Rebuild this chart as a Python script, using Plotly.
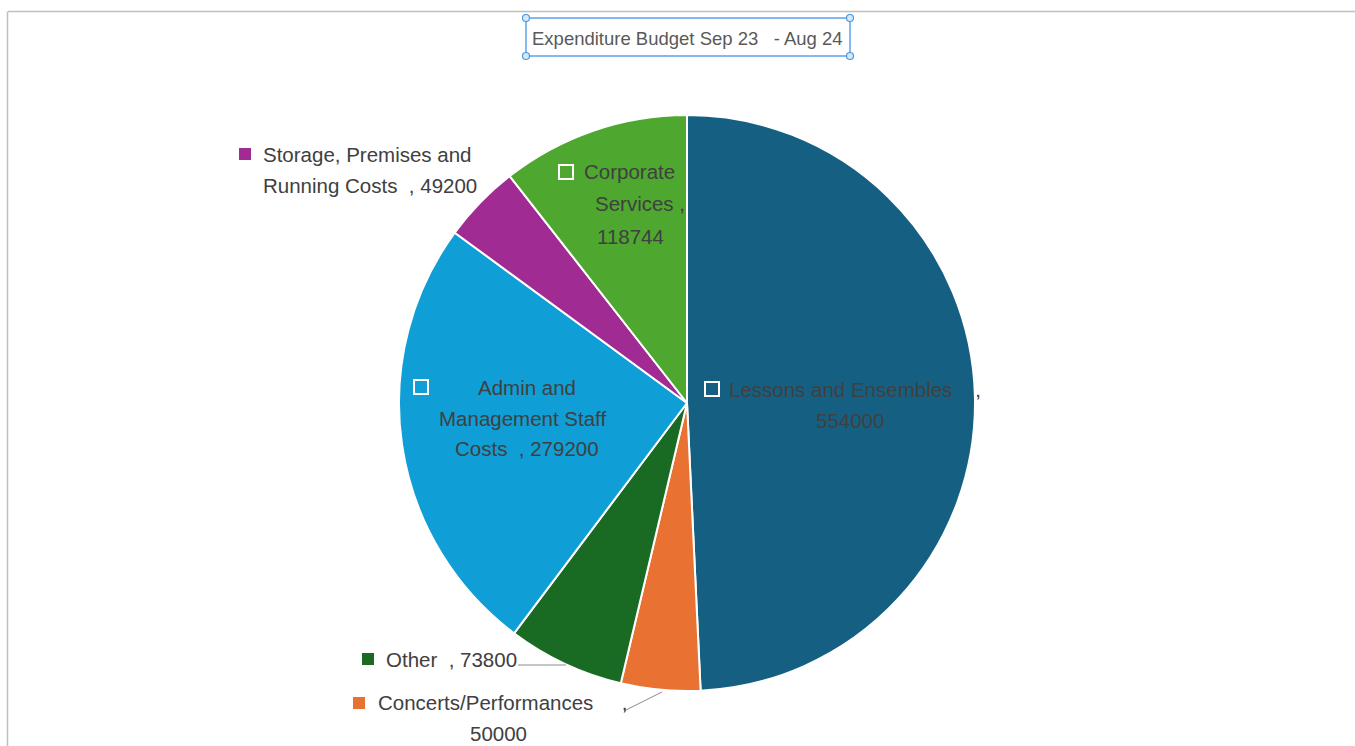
import plotly.graph_objects as go

# ---- data ----
categories = ["Lessons and Ensembles", "Concerts/Performances", "Other",
              "Admin and Management Staff Costs",
              "Storage, Premises and Running Costs", "Corporate Services"]
values = [554000, 50000, 73800, 279200, 49200, 118744]
colors = ["#156082", "#E97132", "#196B24", "#0F9ED5", "#A02B93", "#4EA72E"]
title_text = "Expenditure Budget Sep 23   - Aug 24"

W, H = 1355, 746
def px(x): return x / W
def py(y): return 1 - y / H

# pie placement (pixels)
cx, cy, r = 687, 403, 288

fig = go.Figure(go.Pie(
    labels=categories, values=values, sort=False, direction="clockwise",
    rotation=0, marker=dict(colors=colors, line=dict(color="white", width=2)),
    textinfo="none", hoverinfo="label+value", showlegend=False,
    domain=dict(x=[px(cx - r), px(cx + r)], y=[py(cy + r), py(cy - r)]),
))

label_specs = [
    (0, [f"{categories[0]}    ,", f"{values[0]}"], [(855, 389), (850, 420)], (712, 389), True),
    (1, [f"{categories[1]}     ,", f"{values[1]}"], [(503, 702), (498, 733)], (359, 703), False),
    (2, [f"{categories[2]}  , {values[2]}"], [(452, 659)], (368, 659), False),
    (3, ["Admin and", "Management Staff", f"Costs  , {values[3]}"],
        [(527, 387), (522, 418), (527, 449)], (421, 387), True),
    (4, ["Storage, Premises and", f"Running Costs  , {values[4]}"],
        [(367, 154), (370, 185)], (245, 154), False),
    (5, ["Corporate", "Services ,", f"{values[5]}"],
        [(629, 172), (640, 204), (630, 236)], (566, 172), True),
]

annotations = []
shapes = []
font = dict(family="Liberation Sans, Arial, sans-serif", size=20.5, color="#404040")
for idx, lines, pos, key, hollow in label_specs:
    for t, (x, y) in zip(lines, pos):
        annotations.append(dict(text=t, x=px(x), y=py(y), xref="paper", yref="paper",
                                xanchor="center", yanchor="middle", showarrow=False,
                                font=font))
    kx, ky = key
    s = 7 if hollow else 6
    shapes.append(dict(type="rect", xref="paper", yref="paper",
                       x0=px(kx - s), x1=px(kx + s), y0=py(ky + s), y1=py(ky - s),
                       fillcolor=colors[idx],
                       line=dict(color="white" if hollow else colors[idx], width=2 if hollow else 0)))

# leader lines
for (x0, y0, x1, y1) in [(518, 665, 566, 665), (624, 711, 662, 692)]:
    shapes.append(dict(type="line", xref="paper", yref="paper",
                       x0=px(x0), y0=py(y0), x1=px(x1), y1=py(y1),
                       line=dict(color="#8c8c8c", width=1)))

# chart area border (top and left)
shapes.append(dict(type="line", xref="paper", yref="paper", x0=px(8), x1=1.0,
                   y0=py(11.5), y1=py(11.5), line=dict(color="#bfbfbf", width=1.5)))
shapes.append(dict(type="line", xref="paper", yref="paper", x0=px(7.5), x1=px(7.5),
                   y0=0, y1=py(11.5), line=dict(color="#bfbfbf", width=1.5)))

# title with selection box
annotations.append(dict(text=title_text, x=px(687), y=py(38), xref="paper", yref="paper",
                        xanchor="center", yanchor="middle", showarrow=False,
                        font=dict(family="Liberation Sans, Arial, sans-serif", size=18.5,
                                  color="#595959")))
bx0, bx1, by0, by1 = 526, 850, 18, 56
shapes.append(dict(type="rect", xref="paper", yref="paper",
                   x0=px(bx0), x1=px(bx1), y0=py(by1), y1=py(by0),
                   line=dict(color="#5BA3E6", width=1.5), fillcolor="rgba(0,0,0,0)"))
for hx in (bx0, bx1):
    for hy in (by0, by1):
        shapes.append(dict(type="circle", xref="paper", yref="paper",
                           x0=px(hx - 3.5), x1=px(hx + 3.5), y0=py(hy + 3.5), y1=py(hy - 3.5),
                           fillcolor="#d6e9fb", line=dict(color="#4a98e0", width=1.2)))

fig.update_layout(
    width=W, height=H, margin=dict(l=0, r=0, t=0, b=0),
    paper_bgcolor="white", plot_bgcolor="white",
    annotations=annotations, shapes=shapes,
)
fig.write_html("out.html", config={"displayModeBar": False},
               post_script="document.body.style.margin='0px';document.body.style.overflow='hidden';")
